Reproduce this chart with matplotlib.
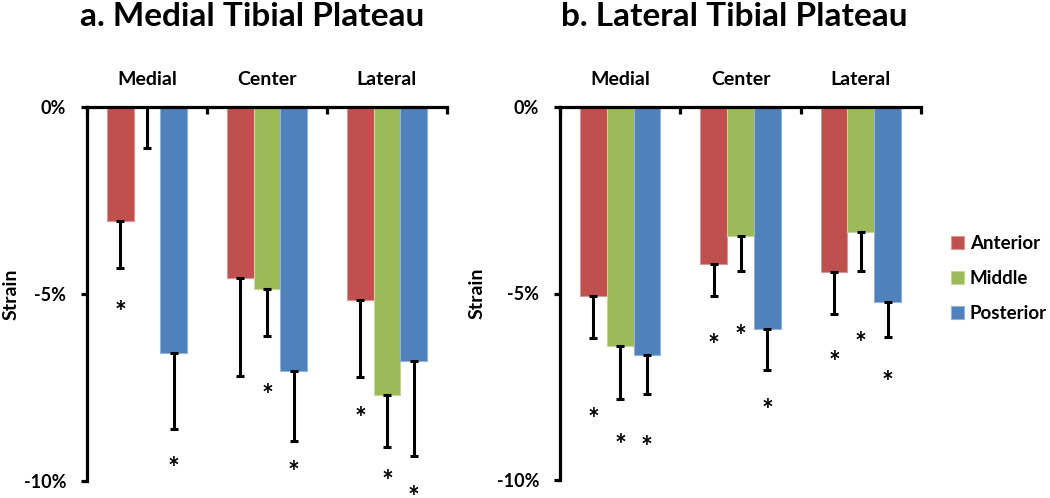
import matplotlib
matplotlib.use("Agg")
import matplotlib.pyplot as plt
import matplotlib.transforms as mtransforms
from matplotlib.patches import Patch
import numpy as np

plt.rcParams['font.family'] = ['Lato', 'DejaVu Sans']
plt.rcParams['font.weight'] = 'bold'

categories = ['Medial', 'Center', 'Lateral']
series = ['Anterior', 'Middle', 'Posterior']
colors = ['#C0504D', '#9BBB59', '#4F81BD']
edge_colors = ['#D99694', '#C3D69B', '#95B3D7']
titles = ['a. Medial Tibial Plateau', 'b. Lateral Tibial Plateau']

# Panel a: Medial Tibial Plateau (strain, %)
med_anterior = [-3.04, -4.58, -5.17]
med_middle = [0.0, -4.87, -7.71]
med_posterior = [-6.59, -7.06, -6.78]
med_anterior_err = [1.27, 2.60, 2.06]
med_middle_err = [1.09, 1.24, 1.39]
med_posterior_err = [2.03, 1.87, 2.55]
med_anterior_star = [-5.34, None, -8.17]
med_middle_star = [None, -7.55, -9.84]
med_posterior_star = [-9.49, -9.60, -10.27]

# Panel b: Lateral Tibial Plateau (strain, %)
lat_anterior = [-5.08, -4.22, -4.43]
lat_middle = [-6.42, -3.45, -3.34]
lat_posterior = [-6.65, -5.96, -5.24]
lat_anterior_err = [1.12, 0.86, 1.12]
lat_middle_err = [1.41, 0.95, 1.05]
lat_posterior_err = [1.04, 1.09, 0.93]
lat_anterior_star = [-8.21, -6.23, -6.69]
lat_middle_star = [-8.90, -5.98, -6.17]
lat_posterior_star = [-8.95, -7.96, -7.23]

yticks = [0, -5, -10]
ytick_labels = ['0%', '-5%', '-10%']

panels = [
    ([med_anterior, med_middle, med_posterior],
     [med_anterior_err, med_middle_err, med_posterior_err],
     [med_anterior_star, med_middle_star, med_posterior_star]),
    ([lat_anterior, lat_middle, lat_posterior],
     [lat_anterior_err, lat_middle_err, lat_posterior_err],
     [lat_anterior_star, lat_middle_star, lat_posterior_star]),
]

W, H = 1050, 498
fig = plt.figure(figsize=(W / 100, H / 100), dpi=100)

axes_px = [(87, 447, 107, 481), (560, 921, 107, 480)]
title_x = [252.5, 734.7]
ylabel_x = [20, 486]

star_fs = 20
bar_w = 1 / 4.5
for i, (vals, errs, stars) in enumerate(panels):
    x0, x1, ytop, ybot = axes_px[i]
    ax = fig.add_axes([x0 / W, 1 - ybot / H, (x1 - x0) / W, (ybot - ytop) / H])
    x = np.arange(len(categories))
    star_tr = mtransforms.offset_copy(ax.transData, fig=fig, x=0,
                                      y=-0.53 * star_fs, units='points')
    for j in range(len(series)):
        xs = x + (j - 1) * bar_w
        ax.bar(xs, vals[j], width=bar_w, color=colors[j], edgecolor=edge_colors[j],
               linewidth=0.8, zorder=2)
        lower = np.array(errs[j])
        ax.errorbar(xs, vals[j], yerr=[lower, np.zeros_like(lower)], fmt='none',
                    ecolor='black', elinewidth=2.2, capsize=3, capthick=2.2, zorder=3)
        for k, s in enumerate(stars[j]):
            if s is not None:
                ax.text(xs[k], s, '*', ha='center', va='baseline', fontsize=star_fs,
                        fontweight='bold', transform=star_tr, clip_on=False)
    ax.set_xlim(-0.5, 2.5)
    ax.set_ylim(-10, 0)
    for sp in ['bottom', 'right']:
        ax.spines[sp].set_visible(False)
    for sp in ['top', 'left']:
        ax.spines[sp].set_linewidth(2.3)
    ax.xaxis.tick_top()
    ax.set_xticks([-0.5, 0.5, 1.5, 2.5])
    ax.set_xticklabels([])
    ax.set_xticks(x, minor=True)
    ax.set_xticklabels(categories, minor=True, fontsize=14, fontweight='bold')
    ax.tick_params(axis='x', which='major', direction='in', length=5, width=2.3)
    ax.tick_params(axis='x', which='minor', length=0, pad=14)
    ax.set_yticks(yticks)
    ax.set_yticklabels(ytick_labels, fontsize=13, fontweight='bold')
    ax.tick_params(axis='y', direction='out', length=4, width=2.3, pad=11)
    ax.set_ylabel('Strain', fontsize=14, fontweight='bold')
    ax.yaxis.set_label_coords((ylabel_x[i] - x0) / (x1 - x0), 0.5)
    fig.text(title_x[i] / W, 1 - 16 / H, titles[i], ha='center', va='center',
             fontsize=24, fontweight='bold')

handles = [Patch(facecolor=colors[j], edgecolor=edge_colors[j], linewidth=0.8)
           for j in range(len(series))]
fig.legend(handles, series, loc='center left', bbox_to_anchor=(951 / W, 1 - 278.5 / H),
           frameon=False, borderpad=0, borderaxespad=0, handlelength=0.7,
           handleheight=0.7, handletextpad=0.3, labelspacing=0.95,
           prop={'size': 13.5, 'weight': 'bold'})

fig.savefig('out.png', dpi=100)
